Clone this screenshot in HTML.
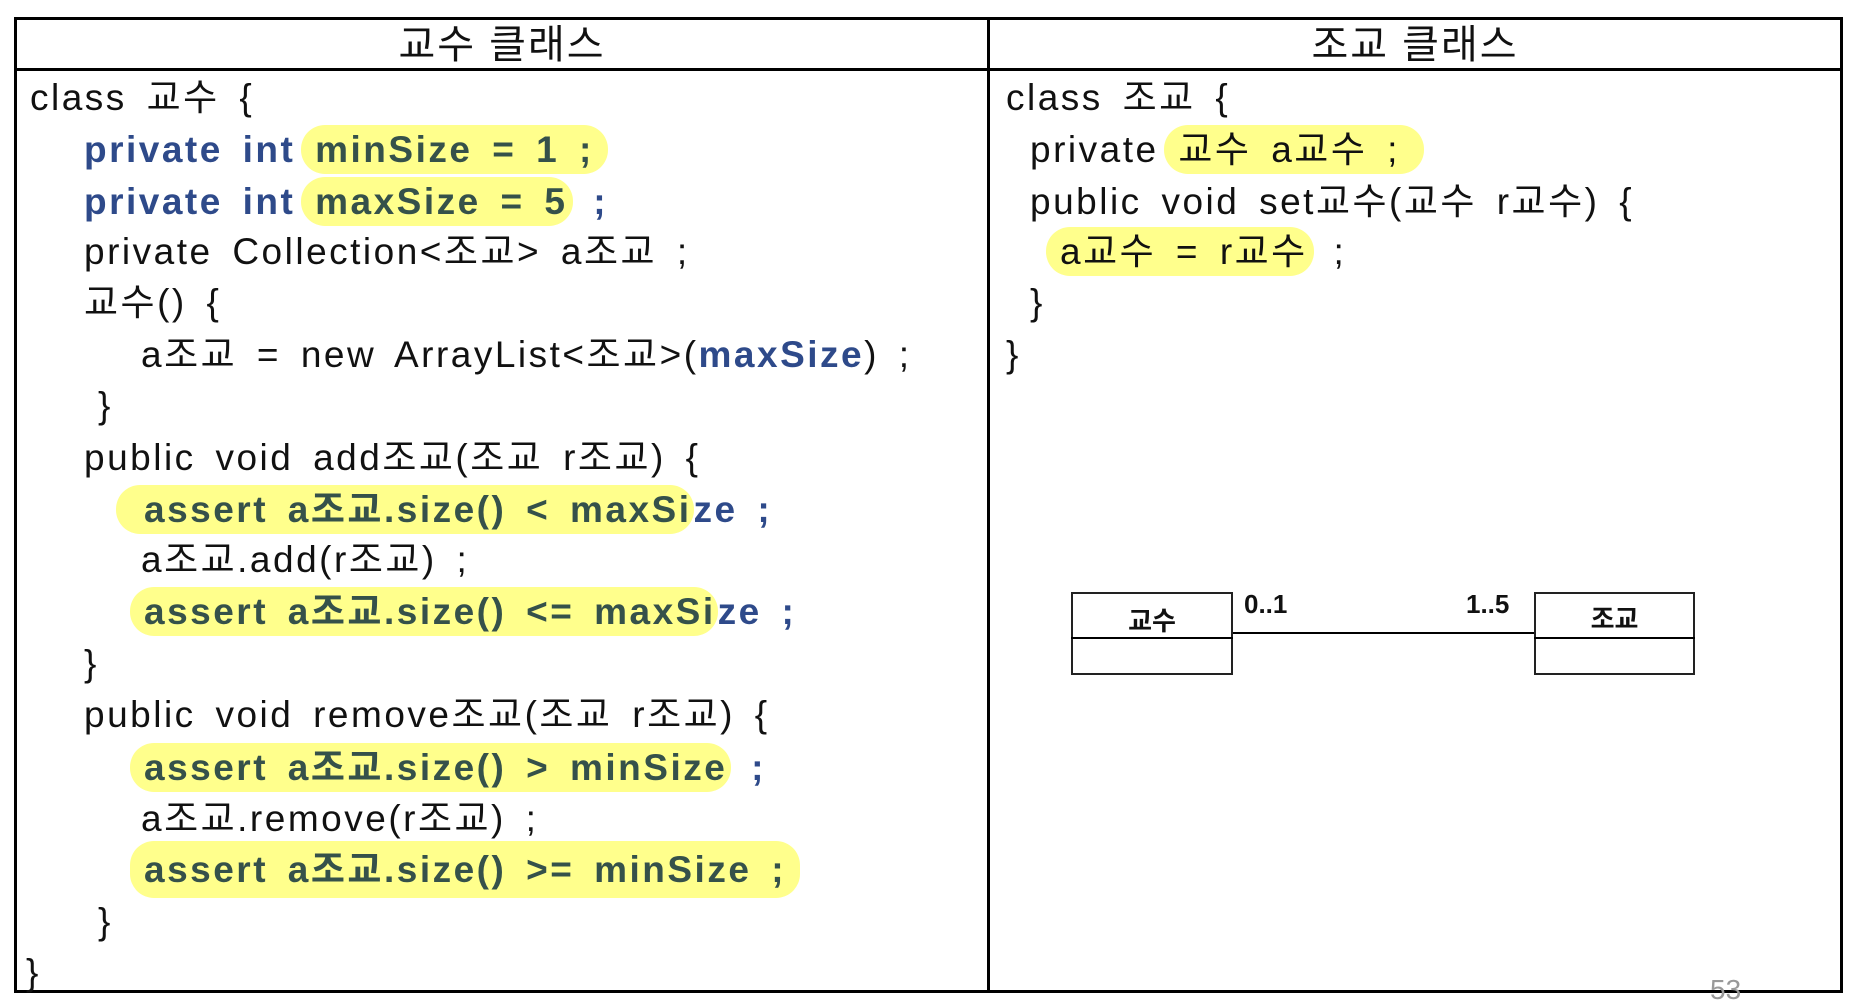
<!DOCTYPE html>
<html><head><meta charset="utf-8"><style>
html,body{margin:0;padding:0;background:#fff;}
body{width:1863px;height:1000px;position:relative;overflow:hidden;font-family:"Liberation Sans","Noto Sans CJK KR","NanumGothic",sans-serif;}
.b{position:absolute;background:#000;}
.l{position:absolute;font-size:37px;line-height:44px;height:44px;white-space:pre;color:#111;letter-spacing:2.5px;word-spacing:7px;}
.bl{color:#2e4a8a;font-weight:bold;}
.h{background:#ffff8c;border-radius:24px;padding:4px 14px;margin-left:-14px;}
.hd{position:absolute;font-size:40px;line-height:50px;color:#111;text-align:center;letter-spacing:2px;}
.g{color:#35514a;font-weight:bold;}
.box{position:absolute;border:2px solid #222;box-sizing:border-box;}
.u{position:absolute;font-family:"Liberation Sans","Noto Sans CJK KR",sans-serif;font-weight:bold;font-size:26px;color:#111;}
</style></head><body>
<!-- table borders -->
<div class="b" style="left:14px;top:17px;width:1829px;height:3px;"></div>
<div class="b" style="left:14px;top:68px;width:1829px;height:3px;"></div>
<div class="b" style="left:14px;top:990px;width:1829px;height:3px;"></div>
<div class="b" style="left:14px;top:17px;width:3px;height:976px;"></div>
<div class="b" style="left:1840px;top:17px;width:3px;height:976px;"></div>
<div class="b" style="left:987px;top:17px;width:3px;height:976px;"></div>

<div class="hd" style="left:17px;top:20px;width:970px;">교수 클래스</div>
<div class="hd" style="left:990px;top:20px;width:850px;">조교 클래스</div>

<!-- left code -->
<div class="l" style="left:30px;top:76px;">class 교수 {</div>
<div class="l bl" style="left:84px;top:128px;">private int <span class="g h">minSize = 1 ;</span></div>
<div class="l bl" style="left:84px;top:180px;">private int <span class="g h" style="padding-right:6px">maxSize = 5</span> ;</div>
<div class="l" style="left:84px;top:230px;">private Collection&lt;조교&gt; a조교 ;</div>
<div class="l" style="left:84px;top:281px;">교수() {</div>
<div class="l" style="left:141px;top:333px;">a조교 = new ArrayList&lt;조교&gt;(<span class="bl">maxSize</span>) ;</div>
<div class="l" style="left:98px;top:384px;">}</div>
<div class="l" style="left:84px;top:436px;">public void add조교(조교 r조교) {</div>
<div class="l g" style="left:144px;top:488px;"><span class="h" style="margin-left:-28px;padding-left:28px;padding-right:2px">assert a조교.size() &lt; maxSi</span><span class="bl">ze ;</span></div>
<div class="l" style="left:141px;top:538px;">a조교.add(r조교) ;</div>
<div class="l g" style="left:144px;top:590px;"><span class="h" style="padding-right:2px">assert a조교.size() &lt;= maxSi</span><span class="bl">ze ;</span></div>
<div class="l" style="left:84px;top:642px;">}</div>
<div class="l" style="left:84px;top:693px;">public void remove조교(조교 r조교) {</div>
<div class="l g" style="left:144px;top:746px;"><span class="h" style="padding-right:4px">assert a조교.size() &gt; minSize</span> <span class="bl">;</span></div>
<div class="l" style="left:141px;top:797px;">a조교.remove(r조교) ;</div>
<div class="l g" style="left:144px;top:848px;"><span class="h" style="padding-top:8px;padding-bottom:8px">assert a조교.size() &gt;= minSize ;</span></div>
<div class="l" style="left:98px;top:900px;">}</div>
<div class="l" style="left:26px;top:951px;">}</div>

<!-- right code -->
<div class="l" style="left:1006px;top:76px;">class 조교 {</div>
<div class="l" style="left:1030px;top:128px;">private <span class="h" style="padding-right:24px">교수 a교수 ;</span></div>
<div class="l" style="left:1030px;top:180px;">public void set교수(교수 r교수) {</div>
<div class="l" style="left:1060px;top:230px;"><span class="h" style="padding-right:6px">a교수 = r교수</span> ;</div>
<div class="l" style="left:1030px;top:281px;">}</div>
<div class="l" style="left:1006px;top:333px;">}</div>

<!-- UML -->
<div class="box" style="left:1071px;top:592px;width:162px;height:83px;"></div>
<div class="b" style="left:1071px;top:637px;width:162px;height:2px;"></div>
<div class="u" style="left:1071px;top:601px;width:162px;text-align:center;">교수</div>
<div class="box" style="left:1534px;top:592px;width:161px;height:83px;"></div>
<div class="b" style="left:1534px;top:637px;width:161px;height:2px;"></div>
<div class="u" style="left:1534px;top:599px;width:161px;text-align:center;">조교</div>
<div class="b" style="left:1233px;top:632px;width:301px;height:2px;"></div>
<div class="u" style="left:1244px;top:589px;">0..1</div>
<div class="u" style="left:1466px;top:589px;">1..5</div>
<div style="position:absolute;left:1710px;top:974px;font-size:28px;color:#999;">53</div>
</body></html>
